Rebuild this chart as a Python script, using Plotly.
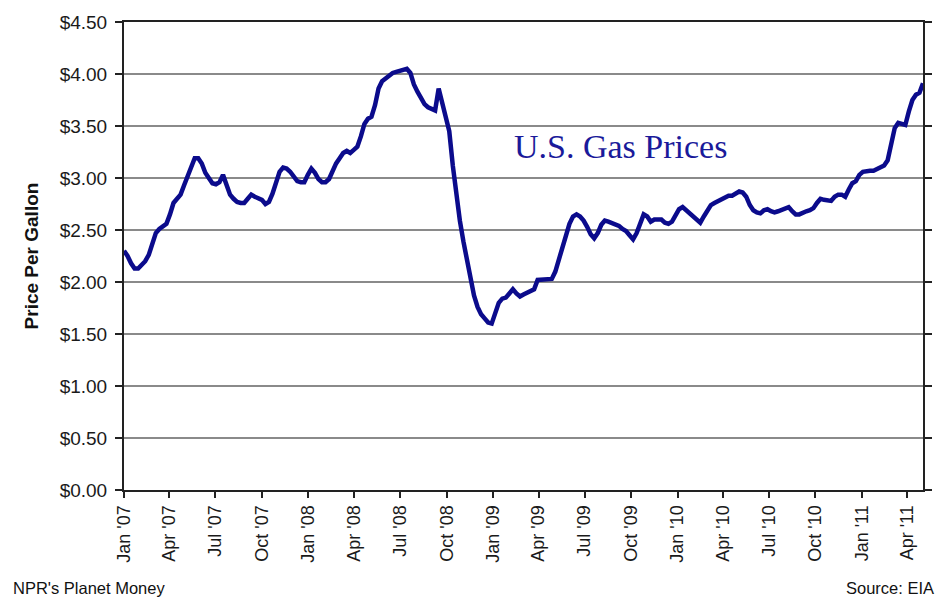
import pandas as pd
import plotly.graph_objects as go

# Weekly U.S. retail gasoline price, $/gallon, weeks starting Mon 2007-01-01
start_date = "2007-01-01"
prices_2007 = [2.30, 2.25, 2.18, 2.13, 2.13, 2.16, 2.20, 2.26, 2.38, 2.47,
               2.51, 2.53, 2.56, 2.65, 2.76, 2.80, 2.84, 2.93, 3.01, 3.10,
               3.19, 3.19, 3.14, 3.05, 2.99, 2.95, 2.94, 2.96, 3.03, 2.93,
               2.84, 2.80, 2.77, 2.76, 2.76, 2.80, 2.84, 2.82, 2.80, 2.79,
               2.75, 2.77, 2.85, 2.94, 3.06, 3.10, 3.09, 3.06, 3.01, 2.97,
               2.96, 2.96, 3.03]
prices_2008 = [3.09, 3.05, 2.99, 2.96, 2.96, 2.99, 3.07, 3.14, 3.19, 3.24,
               3.26, 3.24, 3.27, 3.30, 3.40, 3.52, 3.57, 3.59, 3.70, 3.86,
               3.93, 3.96, 3.99, 4.01, 4.02, 4.03, 4.05, 4.05, 4.01, 3.90,
               3.83, 3.77, 3.71, 3.68, 3.66, 3.65, 3.86, 3.72, 3.60, 3.45,
               3.12, 2.82, 2.59, 2.39, 2.22, 2.01, 1.87, 1.76, 1.69, 1.65,
               1.61, 1.60]
prices_2009 = [1.71, 1.80, 1.84, 1.85, 1.89, 1.93, 1.89, 1.86, 1.88, 1.90,
               1.92, 1.93, 2.02, 2.02, 2.02, 2.02, 2.03, 2.10, 2.21, 2.33,
               2.45, 2.56, 2.63, 2.65, 2.63, 2.59, 2.53, 2.46, 2.42, 2.47,
               2.55, 2.59, 2.58, 2.57, 2.55, 2.54, 2.51, 2.49, 2.45, 2.41,
               2.47, 2.57, 2.65, 2.63, 2.58, 2.60, 2.60, 2.60, 2.57, 2.56,
               2.58]
prices_2010 = [2.64, 2.70, 2.72, 2.69, 2.65, 2.62, 2.59, 2.57, 2.63, 2.69,
               2.74, 2.76, 2.78, 2.79, 2.81, 2.83, 2.83, 2.85, 2.87, 2.86,
               2.82, 2.74, 2.69, 2.67, 2.66, 2.69, 2.70, 2.68, 2.67, 2.68,
               2.69, 2.70, 2.72, 2.68, 2.65, 2.65, 2.67, 2.68, 2.69, 2.71,
               2.76, 2.80, 2.79, 2.78, 2.78, 2.82, 2.84, 2.84, 2.82, 2.89,
               2.95, 2.97]
prices_2011 = [3.03, 3.06, 3.07, 3.07, 3.07, 3.09, 3.11, 3.12, 3.17, 3.34,
               3.48, 3.53, 3.52, 3.51, 3.64, 3.75, 3.80, 3.82, 3.91]

prices = prices_2007 + prices_2008 + prices_2009 + prices_2010 + prices_2011
dates = pd.date_range(start_date, periods=len(prices), freq="7D")

tick_dates = pd.date_range("2007-01-01", "2011-04-01", freq="QS")
tick_labels = ["Jan '07", "Apr '07", "Jul '07", "Oct '07",
               "Jan '08", "Apr '08", "Jul '08", "Oct '08",
               "Jan '09", "Apr '09", "Jul '09", "Oct '09",
               "Jan '10", "Apr '10", "Jul '10", "Oct '10",
               "Jan '11", "Apr '11"]
y_ticks = [0, 0.5, 1.0, 1.5, 2.0, 2.5, 3.0, 3.5, 4.0, 4.5]
y_labels = ["$0.00", "$0.50", "$1.00", "$1.50", "$2.00",
            "$2.50", "$3.00", "$3.50", "$4.00", "$4.50"]

SANS = "Liberation Sans, Arial, sans-serif"
NAVY = "#0b0b8c"

fig = go.Figure()
fig.add_trace(go.Scatter(x=dates, y=prices, mode="lines",
                         line=dict(color=NAVY, width=4.5, shape="linear"),
                         showlegend=False, hoverinfo="x+y"))

fig.update_layout(
    width=948, height=603,
    margin=dict(l=124, r=25, t=20, b=113),
    paper_bgcolor="white", plot_bgcolor="white",
    font=dict(family=SANS, color="#1a1a1a"),
    xaxis=dict(
        type="date",
        range=["2007-01-01", "2011-05-02"],
        tickmode="array", tickvals=tick_dates, ticktext=tick_labels,
        tickangle=-90, tickfont=dict(size=18, family=SANS, color="#1a1a1a"),
        ticks="outside", ticklen=6, tickcolor="#222", tickwidth=1.5,
        showgrid=False, zeroline=False,
        showline=True, linecolor="#222", linewidth=2, mirror=True,
    ),
    yaxis=dict(
        range=[0, 4.5], tickmode="array", tickvals=y_ticks, ticktext=y_labels,
        tickfont=dict(size=19, family=SANS, color="#1a1a1a"),
        ticks="outside", ticklen=7, tickcolor="#222", tickwidth=1.5,
        ticklabelstandoff=4,
        showgrid=True, gridcolor="#8a8a8a", gridwidth=1.5,
        zeroline=False,
        showline=True, linecolor="#222", linewidth=2, mirror="ticks",
        title=dict(text="<b>Price Per Gallon</b>", standoff=16,
                   font=dict(size=19, family=SANS, color="#111")),
    ),
    annotations=[
        dict(text="U.S. Gas Prices", xref="paper", yref="paper",
             x=0.621, y=0.734, xanchor="center", yanchor="middle",
             showarrow=False,
             font=dict(family="Liberation Serif, Times New Roman, serif",
                       size=34, color="#1a1a9a")),
        dict(text="NPR's Planet Money", xref="paper", yref="paper",
             x=-0.142, y=-0.21, xanchor="left", yanchor="middle",
             showarrow=False, font=dict(size=16.5, family=SANS, color="#111")),
        dict(text="Source: EIA", xref="paper", yref="paper",
             x=1.016, y=-0.21, xanchor="right", yanchor="middle",
             showarrow=False, font=dict(size=16.5, family=SANS, color="#111")),
    ],
)

fig.write_html("out.html")
